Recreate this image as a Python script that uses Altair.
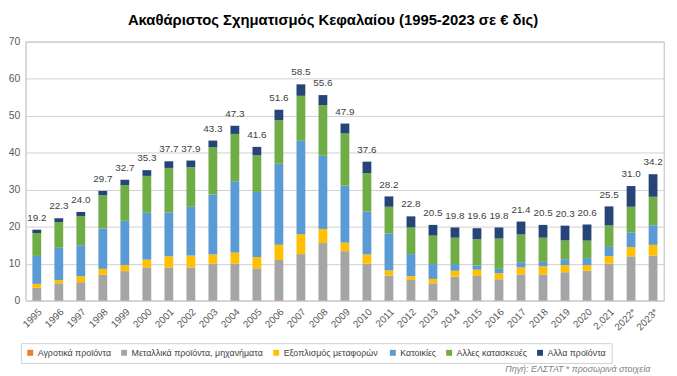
import altair as alt
import pandas as pd

years = ["1995", "1996", "1997", "1998", "1999", "2000", "2001", "2002", "2003", "2004",
         "2005", "2006", "2007", "2008", "2009", "2010", "2011", "2012", "2013", "2014",
         "2015", "2016", "2017", "2018", "2019", "2020", "2,021", "2022*", "2023*"]

series_names = ["Αγροτικά προϊόντα", "Μεταλλικά προϊόντα, μηχανήματα",
                "Εξοπλισμός  μεταφορών", "Κατοικίες", "Αλλες κατασκευές", "Αλλα προϊόντα"]
colors = ["#ED7D31", "#A5A5A5", "#FFC000", "#5B9BD5", "#70AD47", "#264478"]

agri = [0.1, 0.1, 0.1, 0.1, 0.1, 0.1, 0.1, 0.1, 0.1, 0.1,
        0.1, 0.1, 0.1, 0.1, 0.1, 0.1, 0.1, 0.1, 0.1, 0.1,
        0.1, 0.1, 0.1, 0.1, 0.1, 0.1, 0.1, 0.1, 0.1]
metal = [3.4, 4.6, 4.9, 6.9, 7.9, 8.9, 8.9, 8.9, 9.9, 9.9,
         8.65, 10.9, 12.5, 15.5, 13.3, 9.9, 6.7, 5.5, 4.6, 6.4,
         6.6, 5.7, 7.0, 7.0, 7.6, 8.0, 9.9, 11.9, 12.1]
transport = [1.05, 0.9, 1.6, 1.6, 1.6, 2.1, 3.0, 3.2, 2.5, 3.0,
             3.05, 4.1, 5.4, 3.8, 2.3, 2.5, 1.4, 1.0, 1.2, 1.6,
             1.7, 1.6, 1.9, 2.2, 1.9, 1.5, 2.05, 2.5, 2.9]
housing = [7.55, 8.7, 8.4, 10.95, 12.0, 12.7, 11.85, 13.2, 16.2, 19.3,
           17.6, 21.9, 25.3, 19.8, 15.4, 11.6, 10.0, 6.0, 4.0, 1.8,
           1.15, 1.2, 1.4, 1.2, 1.6, 1.9, 2.5, 4.0, 5.3]
other_constr = [6.2, 6.95, 7.9, 8.95, 9.65, 9.95, 12.05, 10.7, 12.8, 12.8,
                9.9, 11.8, 12.1, 13.7, 14.1, 10.4, 7.2, 7.2, 7.7, 7.15,
                7.05, 8.2, 7.5, 6.55, 5.1, 4.75, 5.8, 6.9, 7.7]
other_prod = [0.9, 1.05, 1.1, 1.2, 1.45, 1.55, 1.8, 1.8, 1.8, 2.2,
              2.3, 2.8, 3.1, 2.7, 2.7, 3.1, 2.8, 3.0, 2.9, 2.75,
              3.0, 3.0, 3.5, 3.45, 4.0, 4.35, 5.15, 5.6, 6.1]
totals = [19.2, 22.3, 24.0, 29.7, 32.7, 35.3, 37.7, 37.9, 43.3, 47.3,
          41.6, 51.6, 58.5, 55.6, 47.9, 37.6, 28.2, 22.8, 20.5, 19.8,
          19.6, 19.8, 21.4, 20.5, 20.3, 20.6, 25.5, 31.0, 34.2]
y_ticks = [0, 10, 20, 30, 40, 50, 60, 70]

series_values = [agri, metal, transport, housing, other_constr, other_prod]

rows = []
for k, (name, vals) in enumerate(zip(series_names, series_values)):
    for y, v in zip(years, vals):
        rows.append({"year": y, "series": name, "value": v, "ord": k})
df = pd.DataFrame(rows)
tot_df = pd.DataFrame({"year": years, "total": totals})

FONT = "Liberation Sans"
GRID = "#d0d0d0"

x_axis = alt.Axis(title=None, labelAngle=-45, ticks=False, domain=False,
                  labelFontSize=10, labelColor="#595959", labelPadding=6,
                  labelFont=FONT, labelOverlap=False)
x_scale = alt.Scale(paddingInner=0.6, paddingOuter=0.3)
y_axis = alt.Axis(values=y_ticks, title=None, grid=True, tickCount=8,
                  ticks=False, domain=False, gridColor=GRID, gridWidth=1,
                  labelColor="#595959", labelFontSize=10.5, labelPadding=6,
                  labelFont=FONT, labelOverlap=False)
y_scale = alt.Scale(domain=[0, 70])

bars = alt.Chart(df).mark_bar().encode(
    x=alt.X("year:N", sort=years, scale=x_scale, axis=x_axis),
    y=alt.Y("value:Q", stack="zero", scale=y_scale, axis=y_axis),
    color=alt.Color("series:N",
                    scale=alt.Scale(domain=series_names, range=colors),
                    legend=alt.Legend(title=None, orient="none", legendX=-5, legendY=305,
                                      direction="horizontal", symbolType="square",
                                      symbolSize=36, symbolStrokeWidth=0,
                                      labelFontSize=9, labelFont=FONT,
                                      labelColor="#404040", columnPadding=8,
                                      labelOffset=3,
                                      strokeColor=GRID, padding=5, labelLimit=0)),
    order=alt.Order("ord:Q", sort="ascending"),
)

labels = alt.Chart(tot_df).mark_text(dy=-9, baseline="alphabetic", fontSize=10,
                                     color="#404040", font=FONT).encode(
    x=alt.X("year:N", sort=years, scale=x_scale, axis=x_axis),
    y=alt.Y("total:Q", scale=y_scale, axis=y_axis),
    text=alt.Text("total:Q", format=".1f"),
)

frame = alt.Chart(pd.DataFrame({"f": [0]})).mark_rect(
    fill=None, fillOpacity=0, stroke=GRID, strokeWidth=1).encode(
    x=alt.value(0), x2=alt.value(646), y=alt.value(0), y2=alt.value(262))

source = alt.Chart(pd.DataFrame({"t": ["Πηγή:  ΕΛΣΤΑΤ  * προσωρινά στοιχεία"]})).mark_text(
    align="right", baseline="alphabetic", fontSize=9, fontStyle="italic",
    color="#7f7f7f", font=FONT).encode(
    x=alt.value(632), y=alt.value(334), text="t:N")

chart = alt.layer(frame, bars, labels, source).properties(
    width=646, height=262,
    title=alt.TitleParams("Ακαθάριστος Σχηματισμός Κεφαλαίου (1995-2023 σε € δις)",
                          fontSize=15, fontWeight="bold", anchor="middle", offset=9,
                          dx=-12, color="#000000", font=FONT),
    padding={"left": 18, "top": 32, "right": 5, "bottom": 76},
    autosize=alt.AutoSizeParams(type="none"),
).configure_view(stroke=GRID)

chart.save("out.html", embed_options={"renderer": "svg", "actions": False})
